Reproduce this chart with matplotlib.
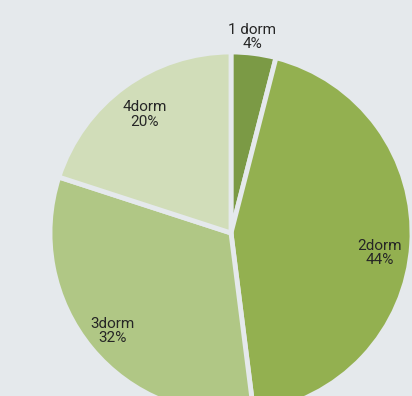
import numpy as np
import matplotlib
matplotlib.use("Agg")
import matplotlib.pyplot as plt

categories = ["1 dorm", "2dorm", "3dorm", "4dorm"]
shares = [4, 44, 32, 20]
colors = ["#7b9a45", "#93b050", "#b0c785", "#d1ddb9"]
bg = "#e5e9ec"

# label radius (in pie radii) and angular nudge (degrees) for each slice
label_r = [1.09, 0.83, 0.85, 0.81]
label_nudge = [1.0, -4.0, 0.0, 0.0]

plt.rcParams["font.family"] = ["Roboto", "DejaVu Sans"]

fig = plt.figure(figsize=(4.12, 3.96), dpi=100, facecolor=bg)
ax = fig.add_axes([0, 0, 1, 1])
ax.set_facecolor(bg)

wedges, _ = ax.pie(shares, colors=colors, startangle=90, counterclock=False,
                   radius=1.0, center=(0, 0),
                   wedgeprops=dict(edgecolor=bg, linewidth=3.5))

start = 90.0
for name, v, r, nudge in zip(categories, shares, label_r, label_nudge):
    span = v / sum(shares) * 360.0
    mid = np.deg2rad(start - span / 2 + nudge)
    ax.text(r * np.cos(mid), r * np.sin(mid), f"{name}\n{v}%",
            ha="center", va="center", fontsize=11, color="#262626",
            linespacing=1.02)
    start -= span

scale = 181.0
cx, cy = 231.0, 233.0
ax.set_xlim(-cx / scale, (412 - cx) / scale)
ax.set_ylim(-(396 - cy) / scale, cy / scale)
ax.set_aspect("equal")
ax.axis("off")

fig.savefig("out.png", dpi=100, facecolor=bg)
